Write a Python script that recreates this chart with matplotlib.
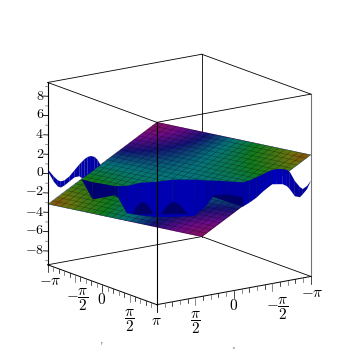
import numpy as np
import matplotlib
matplotlib.use('Agg')
import matplotlib.pyplot as plt
from matplotlib.colors import LinearSegmentedColormap, Normalize, to_rgba_array
from matplotlib.image import AxesImage
from matplotlib.transforms import Affine2D
from mpl_toolkits.mplot3d import proj3d

plt.rcParams['mathtext.fontset'] = 'cm'
plt.rcParams['font.family'] = 'Liberation Serif'

pi = np.pi

# tilted plane: corners (x, y, z)
plane_o = (-3.14, -3.14, -9.42)
plane_xend = (3.14, -3.14, -3.14)
plane_yend = (-3.14, 3.14, 3.14)

# mesh lines of the plane
mesh_pos = [-3.14, -2.88, -2.62, -2.36, -2.09, -1.83, -1.57, -1.31, -1.05, -.79, -.52, -.26, 0,
            .26, .52, .79, 1.05, 1.31, 1.57, 1.83, 2.09, 2.36, 2.62, 2.88, 3.14]
# lines of constant x: z at y=-pi and y=pi
meshx_z0 = [-9.42, -9.16, -8.90, -8.64, -8.38, -8.12, -7.85, -7.59, -7.33, -7.07, -6.81, -6.54, -6.28,
            -6.02, -5.76, -5.50, -5.24, -4.97, -4.71, -4.45, -4.19, -3.93, -3.67, -3.40, -3.14]
meshx_z1 = [3.14, 3.40, 3.67, 3.93, 4.19, 4.45, 4.71, 4.97, 5.24, 5.50, 5.76, 6.02, 6.28,
            6.54, 6.81, 7.07, 7.33, 7.59, 7.85, 8.12, 8.38, 8.64, 8.90, 9.16, 9.42]
# lines of constant y: z at x=-pi and x=pi
meshy_z0 = [-9.42, -8.90, -8.38, -7.85, -7.33, -6.81, -6.28, -5.76, -5.24, -4.71, -4.19, -3.67, -3.14,
            -2.62, -2.09, -1.57, -1.05, -.52, 0, .52, 1.05, 1.57, 2.09, 2.62, 3.14]
meshy_z1 = [-3.14, -2.62, -2.09, -1.57, -1.05, -.52, 0, .52, 1.05, 1.57, 2.09, 2.62, 3.14,
            3.67, 4.19, 4.71, 5.24, 5.76, 6.28, 6.81, 7.33, 7.85, 8.38, 8.90, 9.42]

# colour position over the plane, 0 = corner purple, 1 = corner orange
plane_hue = [
    [.08, .16, .24, .31, .39, .46, .54, .61, .69, .76, .84, .92],
    [.16, .22, .28, .34, .41, .47, .53, .59, .66, .72, .78, .84],
    [.24, .28, .33, .38, .43, .48, .52, .57, .62, .67, .72, .76],
    [.31, .34, .38, .41, .45, .48, .52, .55, .59, .62, .66, .69],
    [.39, .41, .43, .45, .47, .49, .51, .53, .55, .57, .59, .61],
    [.46, .47, .48, .48, .49, .50, .50, .51, .52, .52, .53, .54],
    [.54, .53, .52, .52, .51, .50, .50, .49, .48, .48, .47, .46],
    [.61, .59, .57, .55, .53, .51, .49, .47, .45, .43, .41, .39],
    [.69, .66, .62, .59, .55, .52, .48, .45, .41, .38, .34, .31],
    [.76, .72, .67, .62, .57, .52, .48, .43, .38, .33, .28, .24],
    [.84, .78, .72, .66, .59, .53, .47, .41, .34, .28, .22, .16],
    [.92, .84, .76, .69, .61, .54, .46, .39, .31, .24, .16, .08],
]

# blue surface, visible parts only: position along the left-right diagonal, upper and lower edge
left_t = [-3.12, -3.00, -2.90, -2.83, -2.74, -2.62, -2.50, -2.38, -2.33, -2.26, -2.19, -2.11, -2.02, -1.95, -1.88]
left_top = [.34, -.26, -.65, -.74, -.62, -.17, .48, 1.13, 1.35, 1.67, 1.90, 2.02, 1.93, 1.64, 1.13]
left_bot = [.13, -.78, -1.28, -1.37, -1.14, -.69, -.25, -.12, -.32, -.18, .06, .32, .66, .90, 1.13]

mid_t = [-2.33, -2.07, -1.80, -1.54, -1.45, -1.25, -.94, -.54, -.16, .37, .66, .80, 1.16, 1.52,
         1.68, 1.85, 2.00, 2.09, 2.21, 2.33, 2.47, 2.57, 2.64, 2.76, 2.88, 2.95, 3.05, 3.14]
mid_top = [-.43, -.68, -.83, -.98, -.96, -.92, -.54, -.35, -.06, .05, .01, .04, .02, -.01,
           .23, .58, .93, 1.15, 1.39, 1.52, 1.55, 1.47, 1.27, .36, -.24, -.43, -.10, .44]
mid_bot = [-.43, -2.45, -2.19, -1.92, -2.21, -3.73, -3.88, -4.00, -3.91, -3.70, -2.49, -1.62, -2.07, -2.51,
           -2.06, -1.50, -.85, -.51, -.07, -.04, -.01, -.20, -.50, -1.20, -1.28, -.95, -.41, .44]
mid_shade = ['#000072', '#000072', '#000072', '#000080', '#0000a8', '#0000ac', '#0000b0', '#0000b0',
             '#0000b0', '#0000ac', '#0000a4', '#0000a4', '#0000a4',
             '#0000a8', '#0000a8', '#0000ae', '#0000b4', '#0000b8', '#0000bc', '#0000bc', '#0000b8',
             '#0000b0', '#0000a4', '#00009c', '#000098', '#00009c', '#0000a4']

dome1_t = [-1.11, -.99, -.87, -.75, -.63]
dome1_top = [-3.70, -2.84, -2.51, -2.79, -3.60]
dome1_bot = [-3.81, -3.78, -3.76, -3.73, -3.70]
dome2_t = [-.42, -.27, -.13, .01, .18]
dome2_top = [-3.55, -2.69, -2.35, -2.63, -3.43]
dome2_bot = [-3.65, -3.63, -3.60, -3.57, -3.53]
dark_t = [.80, 1.16, 1.52]
dark_top = [-1.52, -1.34, -1.57]
dark_bot = [-1.62, -2.07, -2.51]

z_ticks = [-9, -8, -7, -6, -5, -4, -3, -2, -1, 0, 1, 2, 3, 4, 5, 6, 7, 8, 9]
z_names = ['$-8$', '$-6$', '$-4$', '$-2$', '$0$', '$2$', '$4$', '$6$', '$8$']
z_major = [-8, -6, -4, -2, 0, 2, 4, 6, 8]
z_label_py = [250, 231, 212, 192, 173, 154, 135, 115, 96]

side_ticks = [-pi + i * pi / 10 for i in range(21)]
y_names = [r'$-\pi$', r'$-\dfrac{\pi}{2}$', '$0$', r'$\dfrac{\pi}{2}$', r'$\pi$']
y_label_px = [50, 77, 102, 129, 156]
y_label_py = [282, 300, 300, 321, 322]
x_names = [r'$\dfrac{\pi}{2}$', '$0$', r'$-\dfrac{\pi}{2}$', r'$-\pi$']
x_label_px = [195, 234, 277, 312]
x_label_py = [323, 306, 309, 294]

zmax = 3 * pi

hue_map = LinearSegmentedColormap.from_list('hue', [
    (0.0, '#8c1450'), (0.2, '#6c0c88'), (0.35, '#141478'), (0.5, '#06747a'),
    (0.65, '#107a1e'), (0.85, '#6a7410'), (1.0, '#983c0c')])

fig = plt.figure(figsize=(3.55, 3.55), dpi=100)
ax = fig.add_axes([-3 / 355, -6.75 / 355, 1, 1], projection='3d', computed_zorder=False)
ax.set_proj_type('ortho')
ax.view_init(elev=15, azim=54.7)
ax.set_box_aspect((1, 1, 1), zoom=0.894)
ax.set_xlim(-pi, pi, view_margin=0)
ax.set_ylim(-pi, pi, view_margin=0)
ax.set_zlim(-zmax, zmax, view_margin=0)
ax.set_axis_off()


def edge(p, q, zo, lw=0.6, c='k', alpha=1):
    ax.plot([p[0], q[0]], [p[1], q[1]], [p[2], q[2]], color=c, lw=lw, zorder=zo, alpha=alpha)


# box, back edges go under the surfaces
edge((-pi, -pi, -zmax), (pi, -pi, -zmax), 1)
edge((-pi, -pi, -zmax), (-pi, pi, -zmax), 1)
edge((-pi, -pi, -zmax), (-pi, -pi, zmax), 1)
edge((pi, -pi, -zmax), (pi, -pi, zmax), 1, lw=0.8)
edge((-pi, pi, -zmax), (-pi, pi, zmax), 1, lw=0.8, c='0.45')
edge((pi, pi, -zmax), (pi, -pi, -zmax), 6, lw=0.7)
edge((pi, pi, -zmax), (-pi, pi, -zmax), 6, lw=0.7)
edge((pi, -pi, zmax), (-pi, -pi, zmax), 6)
edge((-pi, pi, zmax), (-pi, -pi, zmax), 6)
edge((pi, -pi, zmax), (pi, pi, zmax), 6)
edge((-pi, pi, zmax), (pi, pi, zmax), 6)
edge((pi, pi, -zmax), (pi, pi, zmax), 6, lw=0.8)

# plane: smooth colours as an image sheared onto the plane's projected corners
M = ax.get_proj()
p0 = proj3d.proj_transform(*plane_o, M)
px = proj3d.proj_transform(*plane_xend, M)
py = proj3d.proj_transform(*plane_yend, M)
ux, uy = (px[0] - p0[0]) / (2 * pi), (px[1] - p0[1]) / (2 * pi)
vx, vy = (py[0] - p0[0]) / (2 * pi), (py[1] - p0[1]) / (2 * pi)
shear = Affine2D(np.array([[ux, vx, p0[0] + pi * (ux + vx)],
                           [uy, vy, p0[1] + pi * (uy + vy)],
                           [0, 0, 1]]))
im = AxesImage(ax, cmap=hue_map, norm=Normalize(0, 1), interpolation='bilinear',
               interpolation_stage='data', origin='lower', extent=(-pi, pi, -pi, pi), zorder=2)
im.set_data(np.array(plane_hue))
im.set_transform(shear + ax.transData)
im.set_clip_on(False)
ax.add_artist(im)

for v, a, b in zip(mesh_pos, meshx_z0, meshx_z1):
    edge((v, -3.14, a), (v, 3.14, b), 2.5, lw=0.4, alpha=0.38)
for v, a, b in zip(mesh_pos, meshy_z0, meshy_z1):
    edge((-3.14, v, a), (3.14, v, b), 2.5, lw=0.4, alpha=0.38)


def curtain(t, top, bot, colors, zo):
    t = np.array(t)
    XX = np.array([-t, -t])
    YY = np.array([t, t])
    ZZ = np.array([top, bot])
    fc = to_rgba_array(colors).reshape(1, len(t) - 1, 4)
    s = ax.plot_surface(XX, YY, ZZ, rstride=1, cstride=1, shade=False, facecolors=fc, zorder=zo)
    s.set_edgecolor((0, 0, 0.2, 0.2))
    s.set_linewidth(0.25)


curtain(left_t, left_top, left_bot, ['#0000a8'] * (len(left_t) - 1), 3)
curtain(mid_t, mid_top, mid_bot, mid_shade, 3)
curtain(dome1_t, dome1_top, dome1_bot, ['#000068'] * 4, 4)
curtain(dome2_t, dome2_top, dome2_bot, ['#000068'] * 4, 4)
curtain(dark_t, dark_top, dark_bot, ['#000068'] * 2, 4)

# z axis on the left corner
for z in z_ticks:
    major = z in z_major
    d = 0.1 if major else 0.05
    edge((pi, -pi, z), (pi + d, -pi - d, z), 7, c='k' if major else '0.5')

# bottom axes
for i, v in enumerate(side_ticks):
    d = 0.75 if i % 5 == 0 else 0.4
    c = 'k' if i % 2 == 0 else '0.35'
    edge((pi, v, -zmax), (pi, v, -zmax - d), 7, c=c, lw=0.5)
    edge((v, pi, -zmax), (v, pi, -zmax - d), 7, c=c, lw=0.5)

# tick labels, placed in picture pixels
for s, y in zip(z_names, z_label_py):
    fig.text(44 / 355, 1 - y / 355, s, ha='right', va='center', fontsize=10)
for s, x, y in zip(y_names, y_label_px, y_label_py):
    fig.text(x / 355, 1 - y / 355, s, ha='center', va='center', fontsize=11)
for s, x, y in zip(x_names, x_label_px, x_label_py):
    fig.text(x / 355, 1 - y / 355, s, ha='center', va='center', fontsize=11)
# the tiny axis names under the box
fig.text(102 / 355, 1 - 343 / 355, 'y', ha='center', va='center', fontsize=2.5)
fig.text(234 / 355, 1 - 348 / 355, 'x', ha='center', va='center', fontsize=2.5)

plt.savefig('out.png', dpi=100)
